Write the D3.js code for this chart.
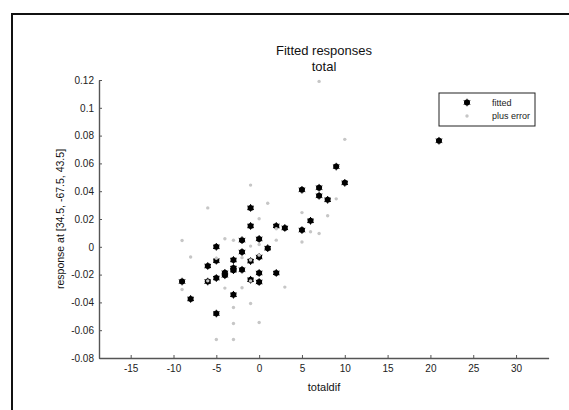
<!DOCTYPE html>
<html>
<head>
<meta charset="utf-8">
<script src="https://cdn.jsdelivr.net/npm/d3@7"></script>
<style>
  body { margin: 0; background: #fff; }
  svg { display: block; font-family: "Liberation Sans", Arial, sans-serif; }
</style>
</head>
<body>
<div id="wrapper"></div>
<script>
// fitted values (black markers)
const fittedX = [-9, -8, -6, -6, -5, -5, -5, -5, -4, -4, -3, -3, -3, -3, -2, -2, -2,
  -1, -1, -1, -1, 0, 0, 0, 0, 1, 2, 2, 3, 5, 5, 6, 7, 7, 8, 9, 10, 21]
const fittedY = [-0.025, -0.0375, -0.0138, -0.025, 0.0, -0.010, -0.0225, -0.048, -0.0187, -0.0205,
  -0.0095, -0.0153, -0.0168, -0.0345, 0.0048, -0.0038, -0.0165,
  0.028, 0.015, -0.0103, -0.0237, 0.0057, -0.0073, -0.0188, -0.0253,
  -0.001, 0.015, -0.0188, 0.0136, 0.041, 0.012, 0.0187, 0.0425, 0.0367, 0.0338, 0.0577, 0.046, 0.0763]

// fitted plus error (grey dots)
const errorX = [7, 10, 9, 8, 7, 6, 5, 5, 3, 2, 2, 1, 0, 0, 0, 0, -1, -1, -1, -1, -1,
  -2, -2, -3, -3, -3, -3, -4, -4, -5, -5, -6, -6, -8, -9, -9]
const errorY = [0.119, 0.0773, 0.0345, 0.0223, 0.0096, 0.0108, 0.0246, 0.0035, -0.029, 0.0048, 0.013,
  0.0313, 0.0202, 0.0017, -0.006, -0.0545, 0.0444, 0.0005, -0.0408, -0.0245, -0.0095,
  -0.0078, -0.0295, 0.0047, -0.0437, -0.0552, -0.0667, 0.0058, -0.0297, -0.0082, -0.0667,
  0.028, -0.0245, -0.0073, 0.0045, -0.0307]

const xTicks = [-15, -10, -5, 0, 5, 10, 15, 20, 25, 30]
const yTicks = [-0.08, -0.06, -0.04, -0.02, 0, 0.02, 0.04, 0.06, 0.08, 0.1, 0.12]
const titleLines = ["Fitted responses", "total"]
const xLabel = "totaldif"
const yLabel = "response at [34.5, -67.5, 43.5]"
const legendLabels = ["fitted", "plus error"]

const dimensions = {
  width: 569,
  height: 410,
  margin: {top: 80, right: 20, bottom: 52, left: 99},
}
dimensions.boundedWidth = 548.6 - dimensions.margin.left
dimensions.boundedHeight = dimensions.height - dimensions.margin.top - dimensions.margin.bottom

const svg = d3.select("#wrapper")
  .append("svg")
  .attr("width", dimensions.width)
  .attr("height", dimensions.height)

// figure frame (only top/left edges are inside the window)
svg.append("rect")
  .attr("x", 12).attr("y", 14)
  .attr("width", 600).attr("height", 450)
  .attr("fill", "none")
  .attr("stroke", "#111")
  .attr("stroke-width", 2)

const bounds = svg.append("g")
  .attr("transform", `translate(${dimensions.margin.left},${dimensions.margin.top})`)

const xScale = d3.scaleLinear()
  .domain([-18.7, 33.8])
  .range([0, dimensions.boundedWidth])
const yScale = d3.scaleLinear()
  .domain([-0.08, 0.12])
  .range([dimensions.boundedHeight, 0])

const xAxis = d3.axisBottom(xScale)
  .tickValues(xTicks)
  .tickSizeInner(-3).tickSizeOuter(0)
  .tickPadding(7)
  .tickFormat(d => String(d))
const yAxis = d3.axisLeft(yScale)
  .tickValues(yTicks)
  .tickSizeInner(-3).tickSizeOuter(0)
  .tickPadding(5)
  .tickFormat(d => d === 0 ? "0" : String(+d.toFixed(2)))

const xg = bounds.append("g")
  .attr("transform", `translate(0,${dimensions.boundedHeight})`)
  .call(xAxis)
const yg = bounds.append("g").call(yAxis)

;[xg, yg].forEach(g => {
  g.select(".domain").attr("stroke", "#555").attr("stroke-width", 1.4)
  g.selectAll(".tick line").attr("stroke", "#555")
  g.selectAll(".tick text")
    .attr("fill", "#222")
    .style("font-size", "10px")
    .style("font-family", "'Liberation Sans', Arial, sans-serif")
})

// fitted markers
const fitted = fittedX.map((x, i) => [x, fittedY[i]])
const plusError = errorX.map((x, i) => [x, errorY[i]])

const star = d3.symbol().type(d3.symbolAsterisk).size(40)

const fittedG = bounds.append("g")
fittedG.selectAll("circle")
  .data(fitted)
  .join("circle")
  .attr("cx", d => xScale(d[0]))
  .attr("cy", d => yScale(d[1]))
  .attr("r", 3)
  .attr("fill", "#000")
fittedG.selectAll("path")
  .data(fitted)
  .join("path")
  .attr("transform", d => `translate(${xScale(d[0])},${yScale(d[1])})`)
  .attr("d", star)
  .attr("fill", "none")
  .attr("stroke", "#000")
  .attr("stroke-width", 1)

bounds.append("g")
  .selectAll("circle")
  .data(plusError)
  .join("circle")
  .attr("cx", d => xScale(d[0]))
  .attr("cy", d => yScale(d[1]))
  .attr("r", 1.7)
  .attr("fill", "#c6c6c6")

// titles and labels
svg.append("g")
  .selectAll("text")
  .data(titleLines)
  .join("text")
  .attr("x", 324)
  .attr("y", (d, i) => 55 + i * 16)
  .attr("text-anchor", "middle")
  .style("font-size", "13px")
  .attr("fill", "#111")
  .text(d => d)

svg.append("text")
  .attr("x", 324)
  .attr("y", 391)
  .attr("text-anchor", "middle")
  .style("font-size", "11px")
  .attr("fill", "#111")
  .text(xLabel)

svg.append("text")
  .attr("transform", `translate(64,219) rotate(-90)`)
  .attr("text-anchor", "middle")
  .style("font-size", "10.5px")
  .attr("fill", "#111")
  .text(yLabel)

// legend
const legend = svg.append("g").attr("transform", "translate(439,93)")
legend.append("rect")
  .attr("width", 96).attr("height", 33)
  .attr("fill", "#fff")
  .attr("stroke", "#222")
  .attr("stroke-width", 1)
legend.append("circle").attr("cx", 28).attr("cy", 9.5).attr("r", 3).attr("fill", "#000")
legend.append("path").attr("transform", "translate(28,9.5)").attr("d", star)
  .attr("fill", "none").attr("stroke", "#000").attr("stroke-width", 1)
legend.append("circle").attr("cx", 28).attr("cy", 23).attr("r", 1.7).attr("fill", "#c6c6c6")
legend.selectAll("text")
  .data(legendLabels)
  .join("text")
  .attr("x", 53)
  .attr("y", (d, i) => 12.5 + i * 13.5)
  .style("font-size", "9px")
  .attr("fill", "#222")
  .text(d => d)
</script>
</body>
</html>
